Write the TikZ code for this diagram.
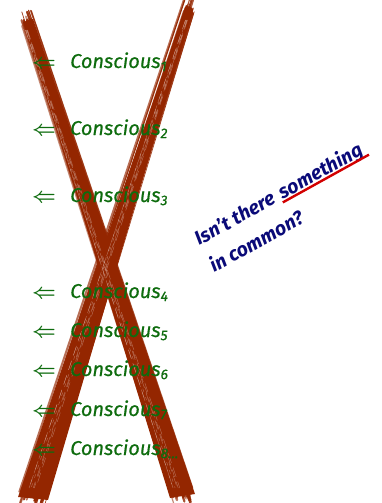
\documentclass[tikz,border=0pt]{standalone}
\usepackage{fontspec}
\setmainfont{Fira Sans}
\definecolor{brush}{RGB}{148,38,0}
\definecolor{cgreen}{RGB}{14,108,14}
\definecolor{navy}{RGB}{10,10,120}
\definecolor{ured}{RGB}{210,0,0}
\tikzset{
  arr/.style={anchor=base west, text=cgreen, font=\boldmath\fontsize{20}{20}\selectfont, inner sep=0pt},
  con/.style={anchor=base west, text=cgreen, font=\itshape\addfontfeature{FakeBold=0.6}\fontsize{20}{20}\selectfont, inner sep=0pt},
  quest/.style={text=navy, font=\bfseries\itshape\fontsize{19.5}{21}\selectfont, inner sep=0pt, rotate=29, anchor=base west},
  stroke/.style={draw=brush, line cap=round},
}
\newcommand{\ulsome}[1]{\tikz[baseline=(s.base)]{\node[inner sep=0pt](s){#1};
  \draw[ured, line width=2.4pt] ([yshift=-2.5pt,xshift=-1pt]s.base west) -- ([yshift=-2.5pt,xshift=4pt]s.base east);}}
\begin{document}
\begin{tikzpicture}[x=1pt,y=-1pt]
\useasboundingbox (0,0) rectangle (381,503);
% brush strokes (X)
\pgfmathsetseed{11}
\fill[brush] (23,22) -- (33,19) -- (195,494) -- (170,498) -- cycle;
\fill[brush] (186,5) -- (193,9) -- (48,500) -- (18,497) -- cycle;
\foreach \i in {1,...,24}{
  \pgfmathsetmacro{\ox}{rand*12}
  \pgfmathsetmacro{\oy}{rand*8}
  \pgfmathsetmacro{\w}{0.6+rnd*2.4}
  \pgfmathsetmacro{\op}{0.5+rnd*0.5}
  \draw[stroke, line width=\w pt, opacity=\op] (26+\ox*0.5,18+\oy) -- (182+\ox,495+\oy);
  \pgfmathsetmacro{\px}{rand*15}
  \draw[stroke, line width=\w pt, opacity=\op] (189+\px*0.4,6+\oy) -- (32+\px,498+\oy);
}
\foreach \i in {1,...,6}{
  \pgfmathsetmacro{\ox}{rand*5}
  \pgfmathsetmacro{\d}{2+rnd*8}
  \draw[white, line width=0.4pt, opacity=0.35, dash pattern=on \d pt off 5pt] (27+\ox*0.3,30) -- (178+\ox,488);
  \draw[white, line width=0.4pt, opacity=0.35, dash pattern=on \d pt off 6pt] (187+\ox*0.3,20) -- (34+\ox,488);
}
% rows
\foreach \n/\y in {1/68,2/135,3/202,4/298,5/337,6/376,7/416,8/455}{
  \node[arr] (a\n) at (32,\y) {$\Leftarrow$};
  \ifnum\n=8
    \node[con] (c\n) at (70,\y) {Conscious\textsubscript{8...}};
  \else
    \node[con] (c\n) at (70,\y) {Conscious\textsubscript{\n}};
  \fi
}
% question
\node[quest] (q1) at (199,246) {Isn’t there \ulsome{something}};
\node[quest] (q2) at (214,273) {in common?};
\end{tikzpicture}
\end{document}
